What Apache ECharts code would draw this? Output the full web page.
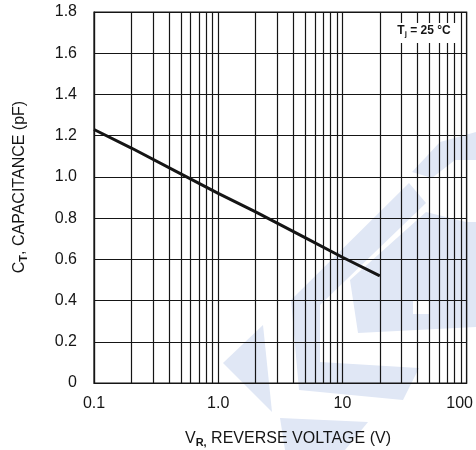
<!DOCTYPE html>
<html><head><meta charset="utf-8">
<script src="https://cdn.jsdelivr.net/npm/echarts@6/dist/echarts.min.js"></script>
<style>html,body{margin:0;padding:0;background:#fff}#c{width:476px;height:450px}</style>
</head><body><div id="c"></div>
<script>
// ---- data ----
const voltage = [0.1, 0.2, 0.5, 1, 2, 5, 10, 20];
const capacitance = [1.23, 1.14, 1.015, 0.92, 0.83, 0.705, 0.61, 0.52];
const xTickLabels = ['0.1', '1.0', '10', '100'];
const yTickLabels = ['0', '0.2', '0.4', '0.6', '0.8', '1.0', '1.2', '1.4', '1.6', '1.8'];
const minorGridX = [0.2,0.3,0.4,0.5,0.6,0.7,0.8,0.9, 2,3,4,5,6,7,8,9, 20,30,40,50,60,70,80,90];

const INK = '#151515';
const FONT = '"Liberation Sans", Arial, sans-serif';
const WM = '#e0e7f5';

const chart = echarts.init(document.getElementById('c'), null, {renderer: 'canvas'});
const wm = (pts) => ({type: 'polygon', z: -10, silent: true, shape: {points: pts}, style: {fill: WM}});

chart.setOption({
  backgroundColor: '#fff',
  animation: false,
  textStyle: {fontFamily: FONT, color: INK},
  grid: {left: 94, right: 9, top: 12, bottom: 67, show: true, borderColor: INK, borderWidth: 1.2, backgroundColor: 'transparent'},
  xAxis: {
    type: 'log', logBase: 10, min: 0.1, max: 100,
    axisLine: {show: true, lineStyle: {color: INK, width: 1.2}},
    axisTick: {show: false},
    splitLine: {show: true, lineStyle: {color: INK, width: 1.2}},
    axisLabel: {
      fontSize: 16, color: INK, fontFamily: FONT, margin: 13,
      formatter: v => {
        const k = Math.round(Math.log10(v)) + 1;
        const s = xTickLabels[k];
        return k === xTickLabels.length - 1 ? '{r|' + s + '}' : s;
      },
      rich: {r: {fontSize: 16, fontFamily: FONT, color: INK, padding: [0, 14, 0, 0]}}
    }
  },
  yAxis: {
    type: 'value', min: 0, max: 1.8, interval: 0.2,
    axisLine: {show: true, lineStyle: {color: INK, width: 1.2}},
    axisTick: {show: false},
    splitLine: {show: true, lineStyle: {color: INK, width: 1.2}},
    axisLabel: {
      fontSize: 16, color: INK, fontFamily: FONT, margin: 17,
      formatter: v => yTickLabels[Math.round(v / 0.2)]
    }
  },
  graphic: {elements: [
    wm([[223,363],[263,325],[272,412]]),
    wm([[291,300],[409,183],[426,203],[320,305],[320,362],[419,368],[403,400],[299,390]]),
    wm([[412,172],[440,142],[476,132],[476,160],[455,160],[432,178]]),
    wm([[350,280],[426,212],[466,222],[476,222],[476,327],[358,333]]),
    {type: 'rect', z: -9, silent: true, shape: {x: 413, y: 300, width: 16, height: 14}, style: {fill: '#fff'}},
    wm([[280,418],[368,422],[345,450],[285,450]]),
    {type: 'rect', z: 50, silent: true, shape: {x: 387, y: 23, width: 71, height: 20}, style: {fill: '#fff'}},
    {type: 'text', z: 51, silent: true, x: 424, y: 31, style: {
      text: '{a|T}{s|j}{a| = 25 °C}', align: 'center', verticalAlign: 'middle',
      rich: {
        a: {fontSize: 12, fontWeight: 'bold', fontFamily: FONT, fill: INK, lineHeight: 14, verticalAlign: 'middle'},
        s: {fontSize: 8, fontWeight: 'bold', fontFamily: FONT, fill: INK, lineHeight: 8, verticalAlign: 'bottom'}
      }
    }},
    {type: 'text', z: 51, silent: true, x: 288, y: 439, style: {
      text: '{a|V}{s|R,}{a| REVERSE VOLTAGE (V)}', align: 'center', verticalAlign: 'middle',
      rich: {
        a: {fontSize: 16, fontFamily: FONT, fill: INK, lineHeight: 18, verticalAlign: 'middle'},
        s: {fontSize: 11, fontFamily: FONT, fontWeight: 'bold', fill: INK, lineHeight: 10, verticalAlign: 'bottom'}
      }
    }},
    {type: 'text', z: 51, silent: true, x: 20, y: 187, rotation: Math.PI / 2, style: {
      text: '{a|C}{s|T}{a|, CAPACITANCE (pF)}', align: 'center', verticalAlign: 'middle',
      rich: {
        a: {fontSize: 16, fontFamily: FONT, fill: INK, lineHeight: 18, verticalAlign: 'middle'},
        s: {fontSize: 11, fontFamily: FONT, fontWeight: 'bold', fill: INK, lineHeight: 10, verticalAlign: 'bottom'}
      }
    }}
  ]},
  series: [
    {
      type: 'line', z: 1, data: [], silent: true,
      markLine: {
        silent: true, symbol: 'none', animation: false,
        label: {show: false},
        lineStyle: {color: INK, width: 1.2, type: 'solid'},
        data: minorGridX.map(v => ({xAxis: v}))
      }
    },
    {
      type: 'line', z: 3, symbol: 'none', silent: true,
      lineStyle: {color: INK, width: 3},
      data: voltage.map((v, i) => [v, capacitance[i]])
    }
  ]
});
</script>
</body></html>
